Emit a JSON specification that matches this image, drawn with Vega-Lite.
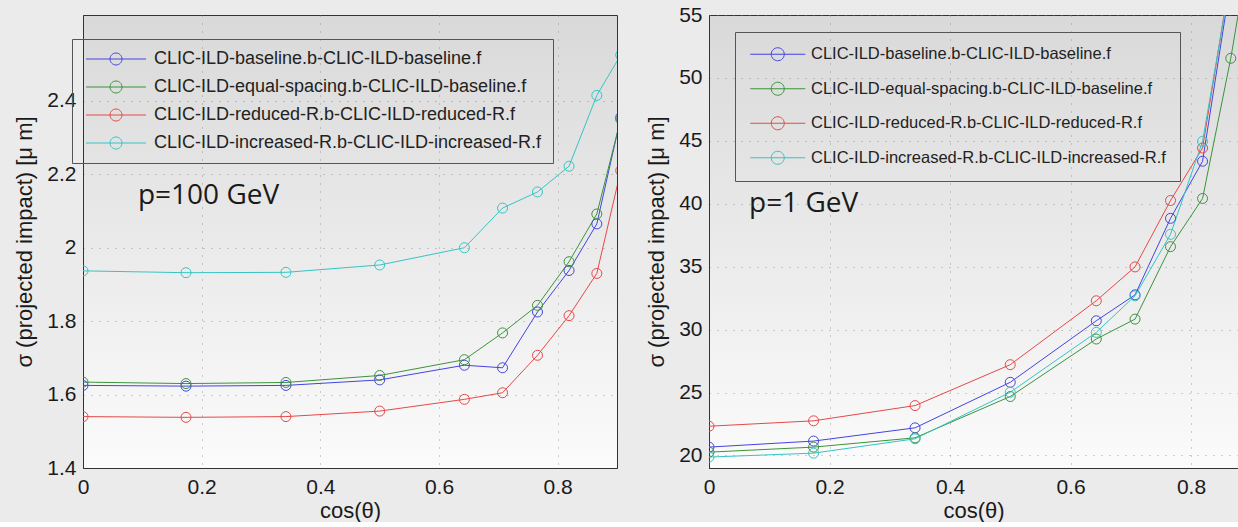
{
  "$schema": "https://vega.github.io/schema/vega-lite/v6.json",
  "background": "#ebebeb",
  "padding": {"left": 13, "top": 3, "right": 0, "bottom": 0},
  "bounds": "flush",
  "spacing": 92,
  "datasets": {
    "p100": [
      {"c": 0, "v": 1.625, "s": "CLIC-ILD-baseline.b-CLIC-ILD-baseline.f"},
      {"c": 0.1736, "v": 1.623, "s": "CLIC-ILD-baseline.b-CLIC-ILD-baseline.f"},
      {"c": 0.342, "v": 1.625, "s": "CLIC-ILD-baseline.b-CLIC-ILD-baseline.f"},
      {"c": 0.5, "v": 1.64, "s": "CLIC-ILD-baseline.b-CLIC-ILD-baseline.f"},
      {"c": 0.6428, "v": 1.68, "s": "CLIC-ILD-baseline.b-CLIC-ILD-baseline.f"},
      {"c": 0.7071, "v": 1.673, "s": "CLIC-ILD-baseline.b-CLIC-ILD-baseline.f"},
      {"c": 0.766, "v": 1.825, "s": "CLIC-ILD-baseline.b-CLIC-ILD-baseline.f"},
      {"c": 0.8192, "v": 1.938, "s": "CLIC-ILD-baseline.b-CLIC-ILD-baseline.f"},
      {"c": 0.866, "v": 2.065, "s": "CLIC-ILD-baseline.b-CLIC-ILD-baseline.f"},
      {"c": 0.9063, "v": 2.355, "s": "CLIC-ILD-baseline.b-CLIC-ILD-baseline.f"},
      {"c": 0, "v": 1.634, "s": "CLIC-ILD-equal-spacing.b-CLIC-ILD-baseline.f"},
      {"c": 0.1736, "v": 1.63, "s": "CLIC-ILD-equal-spacing.b-CLIC-ILD-baseline.f"},
      {"c": 0.342, "v": 1.633, "s": "CLIC-ILD-equal-spacing.b-CLIC-ILD-baseline.f"},
      {"c": 0.5, "v": 1.652, "s": "CLIC-ILD-equal-spacing.b-CLIC-ILD-baseline.f"},
      {"c": 0.6428, "v": 1.695, "s": "CLIC-ILD-equal-spacing.b-CLIC-ILD-baseline.f"},
      {"c": 0.7071, "v": 1.768, "s": "CLIC-ILD-equal-spacing.b-CLIC-ILD-baseline.f"},
      {"c": 0.766, "v": 1.843, "s": "CLIC-ILD-equal-spacing.b-CLIC-ILD-baseline.f"},
      {"c": 0.8192, "v": 1.962, "s": "CLIC-ILD-equal-spacing.b-CLIC-ILD-baseline.f"},
      {"c": 0.866, "v": 2.092, "s": "CLIC-ILD-equal-spacing.b-CLIC-ILD-baseline.f"},
      {"c": 0.9063, "v": 2.35, "s": "CLIC-ILD-equal-spacing.b-CLIC-ILD-baseline.f"},
      {"c": 0, "v": 1.54, "s": "CLIC-ILD-reduced-R.b-CLIC-ILD-reduced-R.f"},
      {"c": 0.1736, "v": 1.538, "s": "CLIC-ILD-reduced-R.b-CLIC-ILD-reduced-R.f"},
      {"c": 0.342, "v": 1.54, "s": "CLIC-ILD-reduced-R.b-CLIC-ILD-reduced-R.f"},
      {"c": 0.5, "v": 1.555, "s": "CLIC-ILD-reduced-R.b-CLIC-ILD-reduced-R.f"},
      {"c": 0.6428, "v": 1.587, "s": "CLIC-ILD-reduced-R.b-CLIC-ILD-reduced-R.f"},
      {"c": 0.7071, "v": 1.605, "s": "CLIC-ILD-reduced-R.b-CLIC-ILD-reduced-R.f"},
      {"c": 0.766, "v": 1.707, "s": "CLIC-ILD-reduced-R.b-CLIC-ILD-reduced-R.f"},
      {"c": 0.8192, "v": 1.815, "s": "CLIC-ILD-reduced-R.b-CLIC-ILD-reduced-R.f"},
      {"c": 0.866, "v": 1.93, "s": "CLIC-ILD-reduced-R.b-CLIC-ILD-reduced-R.f"},
      {"c": 0.9063, "v": 2.21, "s": "CLIC-ILD-reduced-R.b-CLIC-ILD-reduced-R.f"},
      {"c": 0, "v": 1.937, "s": "CLIC-ILD-increased-R.b-CLIC-ILD-increased-R.f"},
      {"c": 0.1736, "v": 1.932, "s": "CLIC-ILD-increased-R.b-CLIC-ILD-increased-R.f"},
      {"c": 0.342, "v": 1.933, "s": "CLIC-ILD-increased-R.b-CLIC-ILD-increased-R.f"},
      {"c": 0.5, "v": 1.953, "s": "CLIC-ILD-increased-R.b-CLIC-ILD-increased-R.f"},
      {"c": 0.6428, "v": 2.0, "s": "CLIC-ILD-increased-R.b-CLIC-ILD-increased-R.f"},
      {"c": 0.7071, "v": 2.108, "s": "CLIC-ILD-increased-R.b-CLIC-ILD-increased-R.f"},
      {"c": 0.766, "v": 2.152, "s": "CLIC-ILD-increased-R.b-CLIC-ILD-increased-R.f"},
      {"c": 0.8192, "v": 2.222, "s": "CLIC-ILD-increased-R.b-CLIC-ILD-increased-R.f"},
      {"c": 0.866, "v": 2.415, "s": "CLIC-ILD-increased-R.b-CLIC-ILD-increased-R.f"},
      {"c": 0.9063, "v": 2.525, "s": "CLIC-ILD-increased-R.b-CLIC-ILD-increased-R.f"}
    ],
    "p1": [
      {"c": 0, "v": 20.66, "s": "CLIC-ILD-baseline.b-CLIC-ILD-baseline.f"},
      {"c": 0.1736, "v": 21.14, "s": "CLIC-ILD-baseline.b-CLIC-ILD-baseline.f"},
      {"c": 0.342, "v": 22.19, "s": "CLIC-ILD-baseline.b-CLIC-ILD-baseline.f"},
      {"c": 0.5, "v": 25.81, "s": "CLIC-ILD-baseline.b-CLIC-ILD-baseline.f"},
      {"c": 0.6428, "v": 30.7, "s": "CLIC-ILD-baseline.b-CLIC-ILD-baseline.f"},
      {"c": 0.7071, "v": 32.76, "s": "CLIC-ILD-baseline.b-CLIC-ILD-baseline.f"},
      {"c": 0.766, "v": 38.84, "s": "CLIC-ILD-baseline.b-CLIC-ILD-baseline.f"},
      {"c": 0.8192, "v": 43.38, "s": "CLIC-ILD-baseline.b-CLIC-ILD-baseline.f"},
      {"c": 0.866, "v": 57.7, "s": "CLIC-ILD-baseline.b-CLIC-ILD-baseline.f"},
      {"c": 0, "v": 20.26, "s": "CLIC-ILD-equal-spacing.b-CLIC-ILD-baseline.f"},
      {"c": 0.1736, "v": 20.66, "s": "CLIC-ILD-equal-spacing.b-CLIC-ILD-baseline.f"},
      {"c": 0.342, "v": 21.4, "s": "CLIC-ILD-equal-spacing.b-CLIC-ILD-baseline.f"},
      {"c": 0.5, "v": 24.68, "s": "CLIC-ILD-equal-spacing.b-CLIC-ILD-baseline.f"},
      {"c": 0.6428, "v": 29.25, "s": "CLIC-ILD-equal-spacing.b-CLIC-ILD-baseline.f"},
      {"c": 0.7071, "v": 30.83, "s": "CLIC-ILD-equal-spacing.b-CLIC-ILD-baseline.f"},
      {"c": 0.766, "v": 36.59, "s": "CLIC-ILD-equal-spacing.b-CLIC-ILD-baseline.f"},
      {"c": 0.8192, "v": 40.42, "s": "CLIC-ILD-equal-spacing.b-CLIC-ILD-baseline.f"},
      {"c": 0.866, "v": 51.56, "s": "CLIC-ILD-equal-spacing.b-CLIC-ILD-baseline.f"},
      {"c": 0.9063, "v": 63, "s": "CLIC-ILD-equal-spacing.b-CLIC-ILD-baseline.f"},
      {"c": 0, "v": 22.32, "s": "CLIC-ILD-reduced-R.b-CLIC-ILD-reduced-R.f"},
      {"c": 0.1736, "v": 22.75, "s": "CLIC-ILD-reduced-R.b-CLIC-ILD-reduced-R.f"},
      {"c": 0.342, "v": 23.96, "s": "CLIC-ILD-reduced-R.b-CLIC-ILD-reduced-R.f"},
      {"c": 0.5, "v": 27.21, "s": "CLIC-ILD-reduced-R.b-CLIC-ILD-reduced-R.f"},
      {"c": 0.6428, "v": 32.29, "s": "CLIC-ILD-reduced-R.b-CLIC-ILD-reduced-R.f"},
      {"c": 0.7071, "v": 34.98, "s": "CLIC-ILD-reduced-R.b-CLIC-ILD-reduced-R.f"},
      {"c": 0.766, "v": 40.26, "s": "CLIC-ILD-reduced-R.b-CLIC-ILD-reduced-R.f"},
      {"c": 0.8192, "v": 44.43, "s": "CLIC-ILD-reduced-R.b-CLIC-ILD-reduced-R.f"},
      {"c": 0.866, "v": 58.3, "s": "CLIC-ILD-reduced-R.b-CLIC-ILD-reduced-R.f"},
      {"c": 0, "v": 19.87, "s": "CLIC-ILD-increased-R.b-CLIC-ILD-increased-R.f"},
      {"c": 0.1736, "v": 20.18, "s": "CLIC-ILD-increased-R.b-CLIC-ILD-increased-R.f"},
      {"c": 0.342, "v": 21.32, "s": "CLIC-ILD-increased-R.b-CLIC-ILD-increased-R.f"},
      {"c": 0.5, "v": 25.02, "s": "CLIC-ILD-increased-R.b-CLIC-ILD-increased-R.f"},
      {"c": 0.6428, "v": 29.78, "s": "CLIC-ILD-increased-R.b-CLIC-ILD-increased-R.f"},
      {"c": 0.7071, "v": 32.68, "s": "CLIC-ILD-increased-R.b-CLIC-ILD-increased-R.f"},
      {"c": 0.766, "v": 37.57, "s": "CLIC-ILD-increased-R.b-CLIC-ILD-increased-R.f"},
      {"c": 0.8192, "v": 44.96, "s": "CLIC-ILD-increased-R.b-CLIC-ILD-increased-R.f"},
      {"c": 0.866, "v": 58.0, "s": "CLIC-ILD-increased-R.b-CLIC-ILD-increased-R.f"}
    ]
  },
  "hconcat": [
    {
      "width": 534,
      "height": 453,
      "layer": [
        {
          "data": {"name": "p100"},
          "mark": {"type": "line", "strokeWidth": 1, "clip": true},
          "encoding": {
            "x": {"field": "c", "type": "quantitative", "scale": {"domain": [0, 0.9], "nice": false, "zero": false}, "axis": {"values": [0, 0.2, 0.4, 0.6, 0.8], "format": "~g", "title": "cos(θ)"}},
            "y": {"field": "v", "type": "quantitative", "scale": {"domain": [1.4, 2.634], "nice": false, "zero": false}, "axis": {"values": [1.4, 1.6, 1.8, 2, 2.2, 2.4], "format": "~g", "title": "σ (projected impact) [μ m]"}},
            "color": {
              "field": "s", "type": "nominal",
              "scale": {"domain": ["CLIC-ILD-baseline.b-CLIC-ILD-baseline.f", "CLIC-ILD-equal-spacing.b-CLIC-ILD-baseline.f", "CLIC-ILD-reduced-R.b-CLIC-ILD-reduced-R.f", "CLIC-ILD-increased-R.b-CLIC-ILD-increased-R.f"], "range": ["#4444e0", "#3a943a", "#e64848", "#36c4c4"]},
              "legend": {"orient": "none", "legendX": -11, "legendY": 24, "title": null, "symbolType": "M-5,0L5,0M1,0A1,1,0,1,1,-1,0A1,1,0,1,1,1,0", "symbolSize": 144, "symbolOffset": 24, "labelOffset": 29, "labelFontSize": 18, "padding": 11, "rowPadding": 10}
            }
          }
        },
        {
          "data": {"name": "p100"},
          "mark": {"type": "point", "shape": "circle", "filled": false, "size": 100, "strokeWidth": 1, "opacity": 1, "clip": true},
          "encoding": {
            "x": {"field": "c", "type": "quantitative"},
            "y": {"field": "v", "type": "quantitative"},
            "color": {"field": "s", "type": "nominal"}
          }
        },
        {
          "data": {"values": [{"label": "p=100 GeV"}]},
          "mark": {"type": "text", "font": "Open Sans", "fontSize": 28, "align": "left", "baseline": "middle", "color": "#1a1a1a"},
          "encoding": {
            "x": {"datum": 0.0926, "type": "quantitative"},
            "y": {"datum": 2.141, "type": "quantitative"},
            "text": {"field": "label"}
          }
        }
      ]
    },
    {
      "width": 529,
      "height": 453,
      "layer": [
        {
          "data": {"name": "p1"},
          "mark": {"type": "line", "strokeWidth": 1, "clip": true},
          "encoding": {
            "x": {"field": "c", "type": "quantitative", "scale": {"domain": [0, 0.878], "nice": false, "zero": false}, "axis": {"values": [0, 0.2, 0.4, 0.6, 0.8], "format": "~g", "title": "cos(θ)"}},
            "y": {"field": "v", "type": "quantitative", "scale": {"domain": [19, 55], "nice": false, "zero": false}, "axis": {"values": [20, 25, 30, 35, 40, 45, 50, 55], "format": "~g", "title": "σ (projected impact) [μ m]"}},
            "color": {
              "field": "s", "type": "nominal",
              "scale": {"domain": ["CLIC-ILD-baseline.b-CLIC-ILD-baseline.f", "CLIC-ILD-equal-spacing.b-CLIC-ILD-baseline.f", "CLIC-ILD-reduced-R.b-CLIC-ILD-reduced-R.f", "CLIC-ILD-increased-R.b-CLIC-ILD-increased-R.f"], "range": ["#4444e0", "#3a943a", "#e64848", "#36c4c4"]},
              "legend": {"orient": "none", "legendX": 26, "legendY": 17, "title": null, "symbolType": "M-4.23,0L4.23,0M1,0A1,1,0,1,1,-1,0A1,1,0,1,1,1,0", "symbolSize": 169, "symbolOffset": 20.5, "labelOffset": 25, "labelFontSize": 16.5, "padding": 14, "rowPadding": 16.5}
            }
          }
        },
        {
          "data": {"name": "p1"},
          "mark": {"type": "point", "shape": "circle", "filled": false, "size": 100, "strokeWidth": 1, "opacity": 1, "clip": true},
          "encoding": {
            "x": {"field": "c", "type": "quantitative"},
            "y": {"field": "v", "type": "quantitative"},
            "color": {"field": "s", "type": "nominal"}
          }
        },
        {
          "data": {"values": [{"label": "p=1 GeV"}]},
          "mark": {"type": "text", "font": "Open Sans", "fontSize": 28, "align": "left", "baseline": "middle", "color": "#1a1a1a"},
          "encoding": {
            "x": {"datum": 0.0664, "type": "quantitative"},
            "y": {"datum": 40, "type": "quantitative"},
            "text": {"field": "label"}
          }
        }
      ]
    }
  ],
  "resolve": {"legend": {"color": "independent"}},
  "config": {
    "font": "Liberation Sans",
    "view": {"stroke": "#333333", "strokeWidth": 1, "fill": {"gradient": "linear", "x1": 0, "y1": 0, "x2": 0, "y2": 1, "stops": [{"offset": 0, "color": "#d9d9d9"}, {"offset": 1, "color": "#fbfbfb"}]}},
    "axis": {"labelFont": "Liberation Sans", "labelFontSize": 21, "labelColor": "#1a1a1a", "titleFont": "Liberation Sans", "titleFontSize": 22, "titleFontWeight": "normal", "titleColor": "#1a1a1a", "domainColor": "#333333", "ticks": false, "grid": true, "gridColor": "#777777", "gridDash": [1, 7], "gridOpacity": 0.7, "labelPadding": 7, "labelFlush": false, "labelOverlap": false},
    "axisX": {"labelPadding": 8, "titlePadding": 3},
    "axisY": {"titlePadding": 10},
    "legend": {"labelFont": "Liberation Sans", "labelColor": "#222222", "strokeColor": "#555555", "symbolStrokeWidth": 1, "symbolFillColor": "transparent", "labelLimit": 1000}
  }
}
